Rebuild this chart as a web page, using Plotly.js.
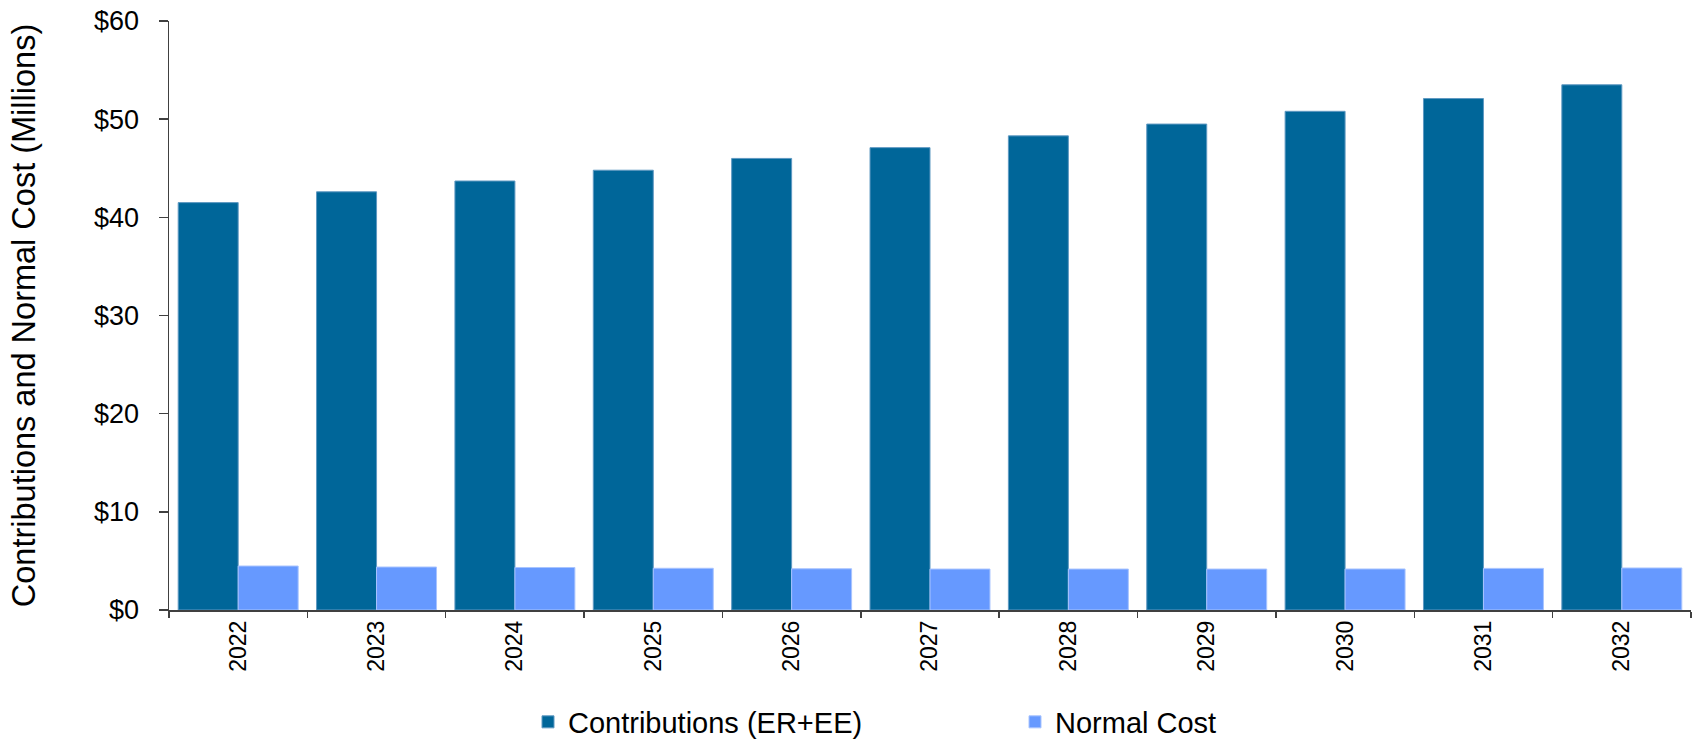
<!DOCTYPE html>
<html>
<head>
<meta charset="utf-8">
<script src="https://cdn.plot.ly/plotly-3.0.1.min.js"></script>
<style>html,body{margin:0;padding:0;background:#fff;}#chart{width:1692px;height:739px;}</style>
</head>
<body>
<div id="chart"></div>
<script>
const years = ["2022","2023","2024","2025","2026","2027","2028","2029","2030","2031","2032"];
const contributions = [41.5, 42.6, 43.7, 44.8, 46.0, 47.1, 48.3, 49.5, 50.8, 52.1, 53.5];
const normalCost = [4.48, 4.38, 4.33, 4.25, 4.20, 4.17, 4.17, 4.17, 4.18, 4.24, 4.28];
const yTickVals = [0, 10, 20, 30, 40, 50, 60];
const yTickText = ["$0", "$10", "$20", "$30", "$40", "$50", "$60"];

const FONT = "Liberation Sans, Arial, sans-serif";
const traces = [
  {type: "bar", name: "Contributions (ER+EE)", x: years, y: contributions,
   marker: {color: "#006699", line: {color: "#5f99c2", width: 1}}},
  {type: "bar", name: "Normal Cost", x: years, y: normalCost,
   marker: {color: "#6699ff", line: {color: "#a8c4ff", width: 1}}}
];
const layout = {
  width: 1692, height: 739,
  margin: {l: 169, r: 1, t: 21, b: 129, pad: 0},
  paper_bgcolor: "#fff", plot_bgcolor: "#fff",
  font: {family: FONT, color: "#000"},
  barmode: "group", bargap: 0.133, bargroupgap: 0,
  showlegend: true,
  legend: {orientation: "h", xref: "container", yref: "container",
           x: 528/1692, xanchor: "left", y: 1 - 722/739, yanchor: "middle",
           font: {size: 29, family: FONT}, entrywidth: 442, traceorder: "normal"},
  xaxis: {type: "category", showline: true, linecolor: "#404040", linewidth: 1.5,
          ticks: "outside", tickson: "boundaries", ticklen: 6, tickcolor: "#404040", tickwidth: 1.5,
          tickangle: -90, tickfont: {size: 23, family: FONT}, showgrid: false, zeroline: false,
          fixedrange: true},
  yaxis: {range: [0, 60], tickvals: yTickVals, ticktext: yTickText, showline: true,
          linecolor: "#404040", linewidth: 1.5, ticks: "outside", ticklen: 9, tickcolor: "#404040",
          tickwidth: 1.5, ticklabelstandoff: 14, tickfont: {size: 27, family: FONT},
          showgrid: false, zeroline: false,
          title: {text: "Contributions and Normal Cost (Millions)", font: {size: 32.5, family: FONT}, standoff: 48}}
};
Plotly.newPlot("chart", traces, layout, {displayModeBar: false, staticPlot: true});
</script>
</body>
</html>
